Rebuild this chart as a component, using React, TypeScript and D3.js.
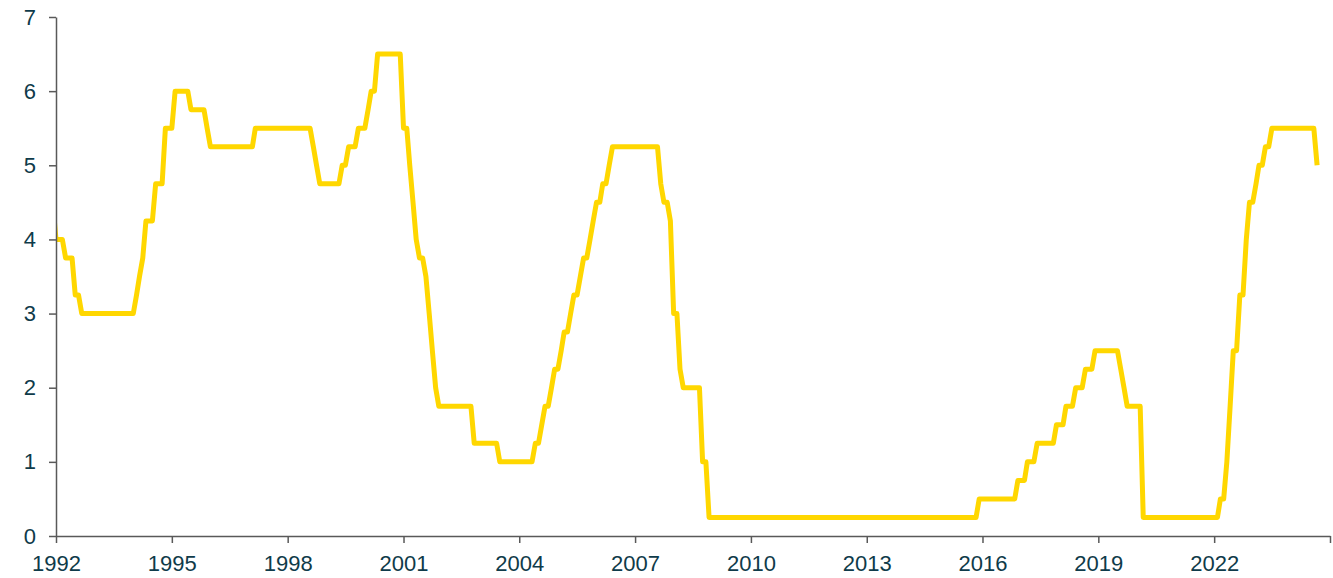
import React, { useEffect, useRef } from 'react';
import * as d3 from 'd3';

// Month-end policy rate (upper bound, %), starting December 1991
const firstMonth = new Date(1991, 11, 1);
const rates: number[] = [
  4.5,
  // 1992
  4, 4, 4, 3.75, 3.75, 3.75, 3.25, 3.25, 3, 3, 3, 3,
  // 1993
  3, 3, 3, 3, 3, 3, 3, 3, 3, 3, 3, 3,
  // 1994
  3, 3.25, 3.5, 3.75, 4.25, 4.25, 4.25, 4.75, 4.75, 4.75, 5.5, 5.5,
  // 1995
  5.5, 6, 6, 6, 6, 6, 5.75, 5.75, 5.75, 5.75, 5.75, 5.5,
  // 1996
  5.25, 5.25, 5.25, 5.25, 5.25, 5.25, 5.25, 5.25, 5.25, 5.25, 5.25, 5.25,
  // 1997
  5.25, 5.25, 5.5, 5.5, 5.5, 5.5, 5.5, 5.5, 5.5, 5.5, 5.5, 5.5,
  // 1998
  5.5, 5.5, 5.5, 5.5, 5.5, 5.5, 5.5, 5.5, 5.25, 5, 4.75, 4.75,
  // 1999
  4.75, 4.75, 4.75, 4.75, 4.75, 5, 5, 5.25, 5.25, 5.25, 5.5, 5.5,
  // 2000
  5.5, 5.75, 6, 6, 6.5, 6.5, 6.5, 6.5, 6.5, 6.5, 6.5, 6.5,
  // 2001
  5.5, 5.5, 5, 4.5, 4, 3.75, 3.75, 3.5, 3, 2.5, 2, 1.75,
  // 2002
  1.75, 1.75, 1.75, 1.75, 1.75, 1.75, 1.75, 1.75, 1.75, 1.75, 1.25, 1.25,
  // 2003
  1.25, 1.25, 1.25, 1.25, 1.25, 1.25, 1, 1, 1, 1, 1, 1,
  // 2004
  1, 1, 1, 1, 1, 1.25, 1.25, 1.5, 1.75, 1.75, 2, 2.25,
  // 2005
  2.25, 2.5, 2.75, 2.75, 3, 3.25, 3.25, 3.5, 3.75, 3.75, 4, 4.25,
  // 2006
  4.5, 4.5, 4.75, 4.75, 5, 5.25, 5.25, 5.25, 5.25, 5.25, 5.25, 5.25,
  // 2007
  5.25, 5.25, 5.25, 5.25, 5.25, 5.25, 5.25, 5.25, 4.75, 4.5, 4.5, 4.25,
  // 2008
  3, 3, 2.25, 2, 2, 2, 2, 2, 2, 1, 1, 0.25,
  // 2009
  0.25, 0.25, 0.25, 0.25, 0.25, 0.25, 0.25, 0.25, 0.25, 0.25, 0.25, 0.25,
  // 2010
  0.25, 0.25, 0.25, 0.25, 0.25, 0.25, 0.25, 0.25, 0.25, 0.25, 0.25, 0.25,
  // 2011
  0.25, 0.25, 0.25, 0.25, 0.25, 0.25, 0.25, 0.25, 0.25, 0.25, 0.25, 0.25,
  // 2012
  0.25, 0.25, 0.25, 0.25, 0.25, 0.25, 0.25, 0.25, 0.25, 0.25, 0.25, 0.25,
  // 2013
  0.25, 0.25, 0.25, 0.25, 0.25, 0.25, 0.25, 0.25, 0.25, 0.25, 0.25, 0.25,
  // 2014
  0.25, 0.25, 0.25, 0.25, 0.25, 0.25, 0.25, 0.25, 0.25, 0.25, 0.25, 0.25,
  // 2015
  0.25, 0.25, 0.25, 0.25, 0.25, 0.25, 0.25, 0.25, 0.25, 0.25, 0.25, 0.5,
  // 2016
  0.5, 0.5, 0.5, 0.5, 0.5, 0.5, 0.5, 0.5, 0.5, 0.5, 0.5, 0.75,
  // 2017
  0.75, 0.75, 1, 1, 1, 1.25, 1.25, 1.25, 1.25, 1.25, 1.25, 1.5,
  // 2018
  1.5, 1.5, 1.75, 1.75, 1.75, 2, 2, 2, 2.25, 2.25, 2.25, 2.5,
  // 2019
  2.5, 2.5, 2.5, 2.5, 2.5, 2.5, 2.5, 2.25, 2, 1.75, 1.75, 1.75,
  // 2020
  1.75, 1.75, 0.25, 0.25, 0.25, 0.25, 0.25, 0.25, 0.25, 0.25, 0.25, 0.25,
  // 2021
  0.25, 0.25, 0.25, 0.25, 0.25, 0.25, 0.25, 0.25, 0.25, 0.25, 0.25, 0.25,
  // 2022
  0.25, 0.25, 0.5, 0.5, 1, 1.75, 2.5, 2.5, 3.25, 3.25, 4, 4.5,
  // 2023
  4.5, 4.75, 5, 5, 5.25, 5.25, 5.5, 5.5, 5.5, 5.5, 5.5, 5.5,
  // 2024
  5.5, 5.5, 5.5, 5.5, 5.5, 5.5, 5.5, 5.5, 5,
];

const yTicks = [0, 1, 2, 3, 4, 5, 6, 7];
const xTickYears = [1992, 1995, 1998, 2001, 2004, 2007, 2010, 2013, 2016, 2019, 2022, 2025];
const xLabelYears = [1992, 1995, 1998, 2001, 2004, 2007, 2010, 2013, 2016, 2019, 2022];

const WIDTH = 1333;
const HEIGHT = 578;
const margin = { top: 17, right: 3, bottom: 42, left: 56 };
const textColor = '#0f3b4a';
const axisColor = '#595959';

const App = () => {
  const svgRef = useRef<SVGSVGElement>(null);

  useEffect(() => {
    const svg = d3.select(svgRef.current);
    svg.selectAll('*').remove();

    const data = rates.map((v, i) => ({ date: d3.timeMonth.offset(firstMonth, i), value: v }));

    const x = d3.scaleTime()
      .domain([new Date(1992, 0, 1), new Date(2025, 0, 1)])
      .range([margin.left, WIDTH - margin.right]);
    const y = d3.scaleLinear()
      .domain([0, 7])
      .range([HEIGHT - margin.bottom, margin.top]);

    svg.append('clipPath')
      .attr('id', 'plot-clip')
      .append('rect')
      .attr('x', margin.left)
      .attr('y', 0)
      .attr('width', WIDTH - margin.left)
      .attr('height', HEIGHT);

    const line = d3.line<{ date: Date; value: number }>()
      .x(d => x(d.date))
      .y(d => y(d.value));

    svg.append('path')
      .datum(data)
      .attr('clip-path', 'url(#plot-clip)')
      .attr('fill', 'none')
      .attr('stroke', '#FFD700')
      .attr('stroke-width', 5)
      .attr('stroke-linejoin', 'round')
      .attr('d', line);

    // Y axis
    const yAxis = svg.append('g')
      .attr('transform', `translate(${margin.left},0)`)
      .call(d3.axisLeft(y).tickValues(yTicks).tickSize(7).tickSizeOuter(0).tickPadding(13).tickFormat(d3.format('d')));

    // X axis
    const xAxis = svg.append('g')
      .attr('transform', `translate(0,${HEIGHT - margin.bottom})`)
      .call(d3.axisBottom(x)
        .tickValues(xTickYears.map(yr => new Date(yr, 0, 1)))
        .tickSize(7)
        .tickSizeOuter(0)
        .tickPadding(12)
        .tickFormat(d => {
          const yr = (d as Date).getFullYear();
          return xLabelYears.includes(yr) ? String(yr) : '';
        }));

    [yAxis, xAxis].forEach(g => {
      g.select('.domain').attr('stroke', axisColor).attr('stroke-width', 1.5);
      g.selectAll('.tick line').attr('stroke', axisColor).attr('stroke-width', 1.5);
      g.selectAll('.tick text')
        .attr('fill', textColor)
        .style('font-family', '"Liberation Sans", Arial, sans-serif')
        .style('font-size', '22px');
    });
  }, []);

  return (
    <svg
      ref={svgRef}
      width={WIDTH}
      height={HEIGHT}
      style={{ position: 'absolute', left: 0, top: 0, background: '#fff' }}
    />
  );
};

export default App;
